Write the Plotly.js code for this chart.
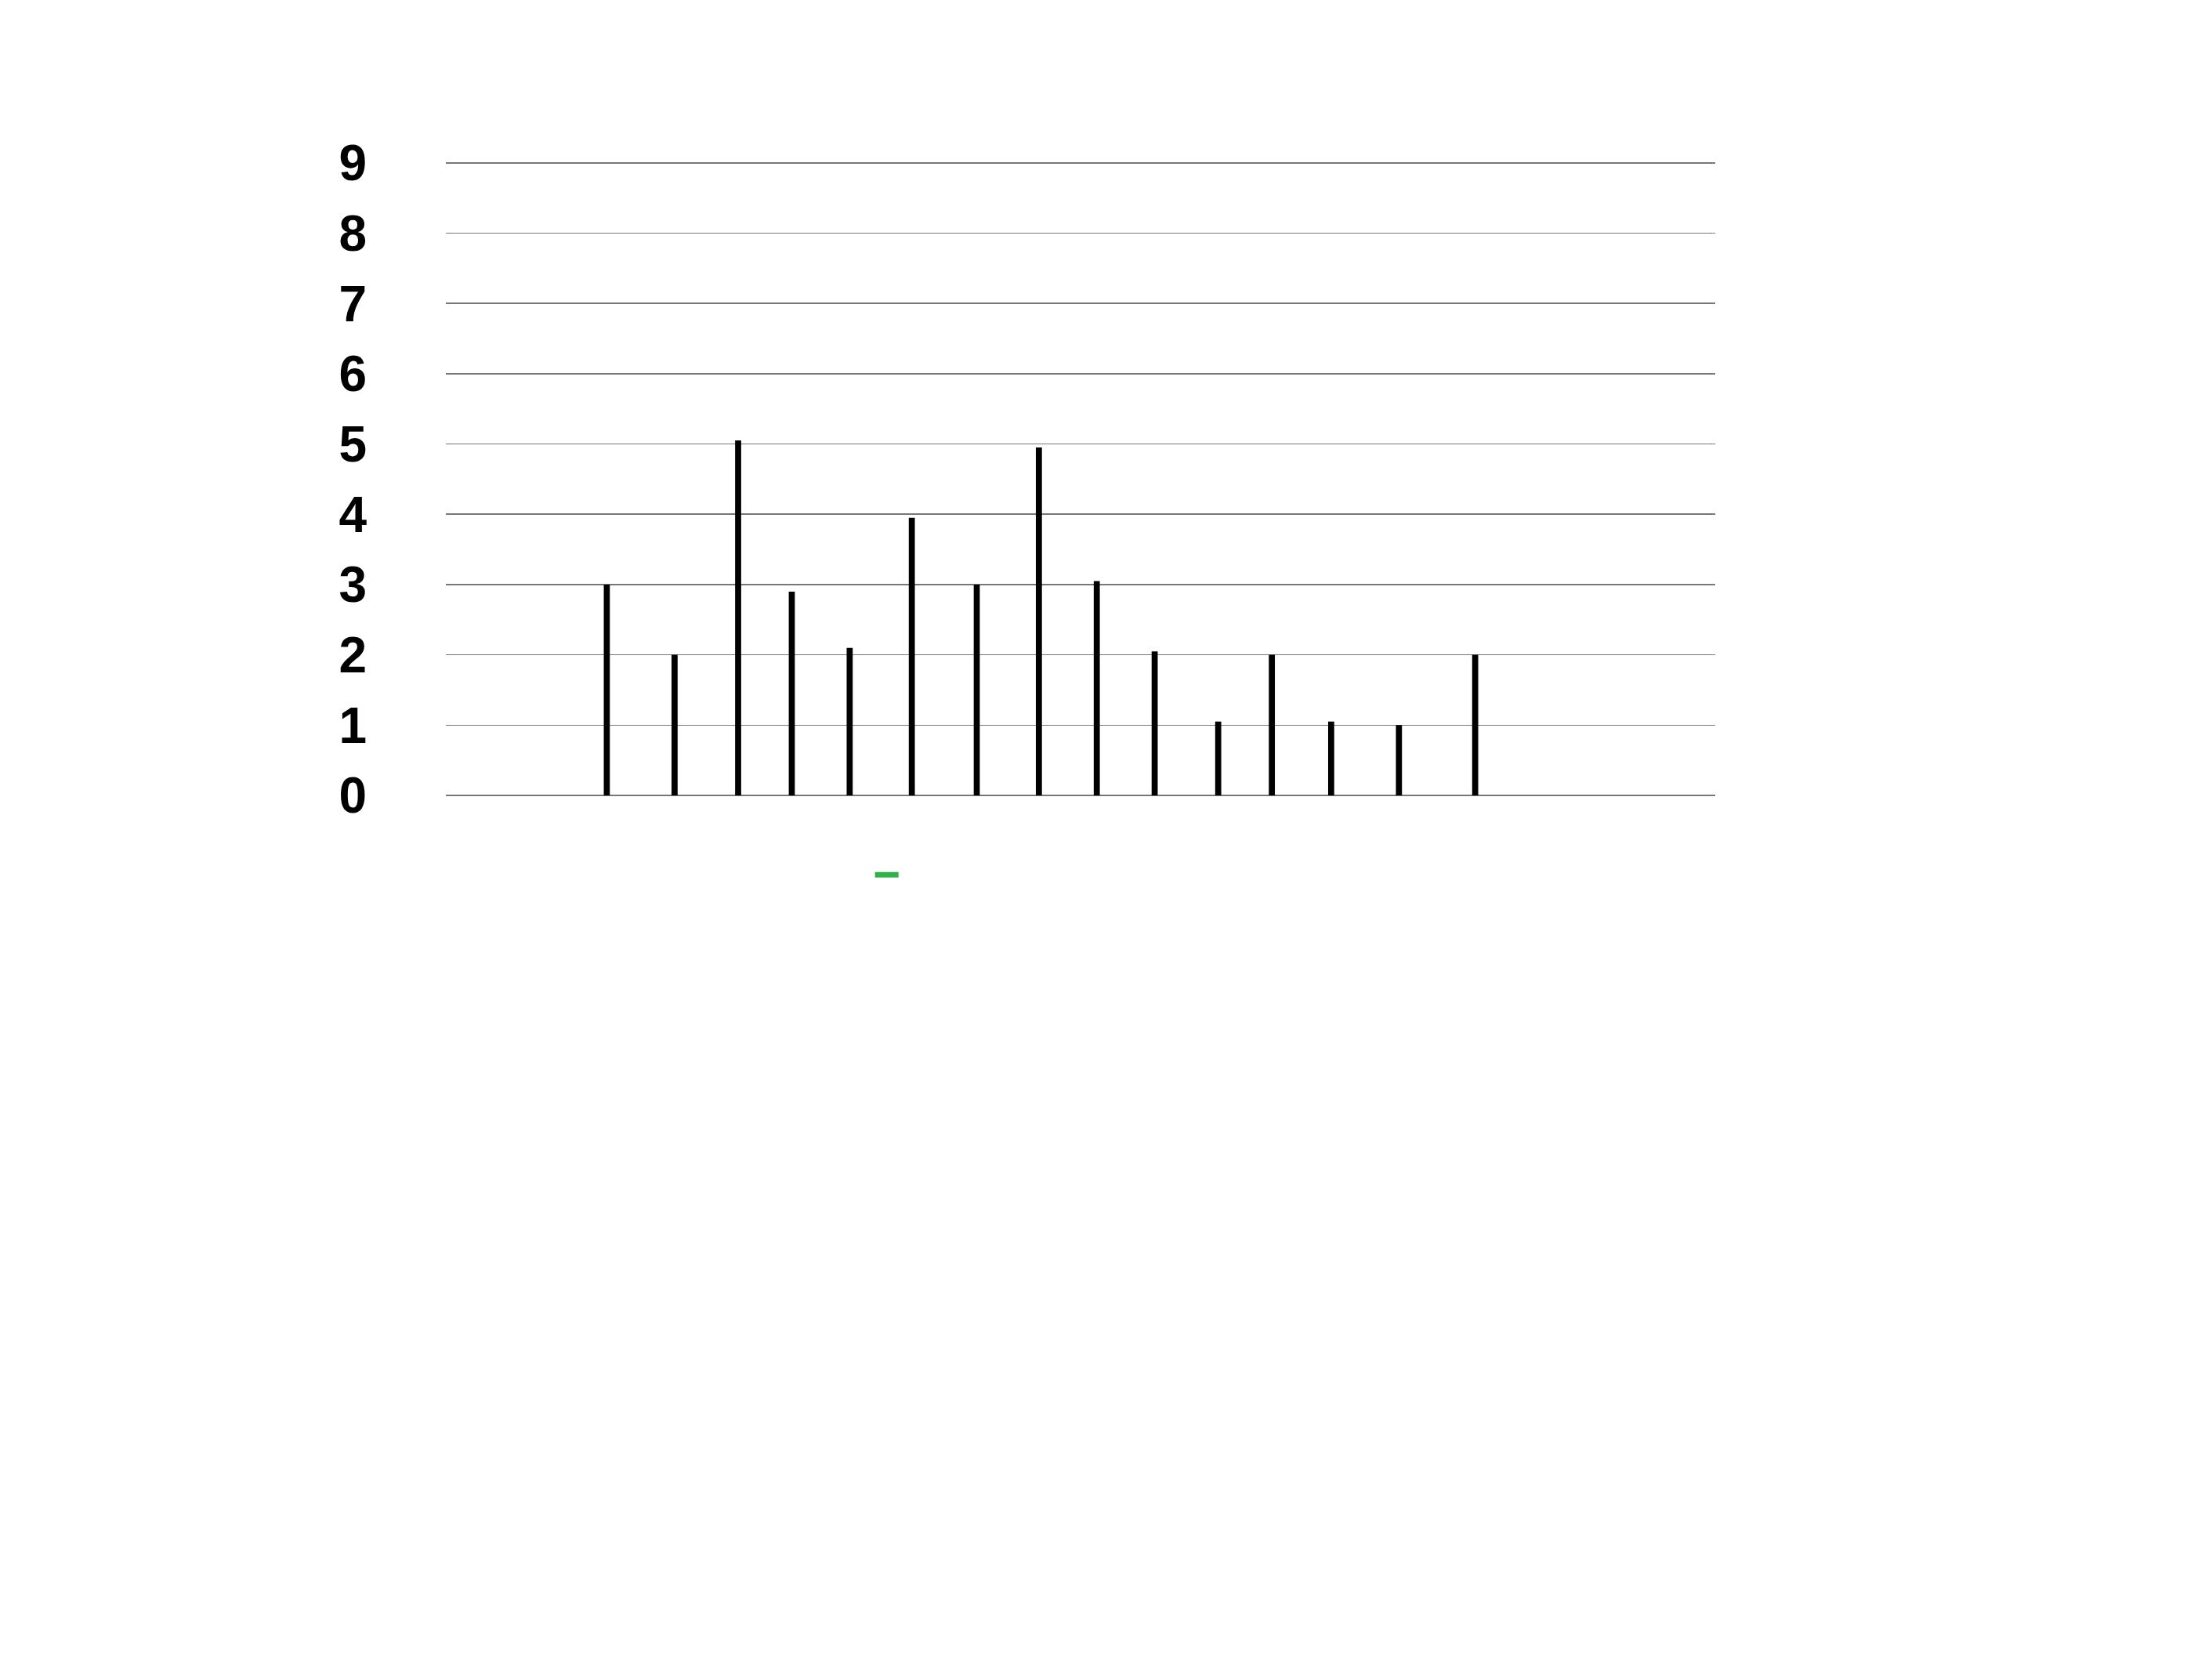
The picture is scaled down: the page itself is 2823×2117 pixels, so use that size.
<!DOCTYPE html>
<html><head><meta charset="utf-8">
<script src="https://cdn.plot.ly/plotly-3.0.1.min.js"></script>
<style>body{margin:0;background:#fff}</style></head>
<body><div id="chart" style="width:2823px;height:2117px"></div>
<script>
const positions = [430,478,523,561,602,646,692,736,777,818,863,901,943,991,1045];
const values = [3,2,5.05,2.9,2.1,3.95,3,4.95,3.05,2.05,1.05,2,1.05,1,2];
const tickVals = [0,1,2,3,4,5,6,7,8,9];

Plotly.newPlot('chart', [
  {type:'bar', x:positions, y:values, width:4.3, marker:{color:'#000'}, showlegend:false, hoverinfo:'skip'},
  {type:'scatter', mode:'lines', x:[null], y:[null], name:' ', line:{color:'#2db34a', width:7}, showlegend:true}
], {
  width:2823, height:2117,
  paper_bgcolor:'#fff', plot_bgcolor:'#fff',
  margin:{l:569, r:634, t:206, b:1102},
  xaxis:{range:[316,1215], showgrid:false, zeroline:false, showticklabels:false, ticks:'', showline:false},
  yaxis:{range:[0,9.02], tickvals:tickVals, showgrid:true, gridcolor:'#777', gridwidth:1.5,
    zeroline:true, zerolinecolor:'#777', zerolinewidth:1.5, ticks:'', ticklabelstandoff:100,
    tickfont:{family:'Liberation Sans', size:64, color:'#000', weight:'bold'}},
  showlegend:true,
  legend:{x:0.335, y:-0.125, xanchor:'left', yanchor:'middle', bgcolor:'rgba(0,0,0,0)', font:{size:20}}
}, {staticPlot:true});
</script></body></html>
